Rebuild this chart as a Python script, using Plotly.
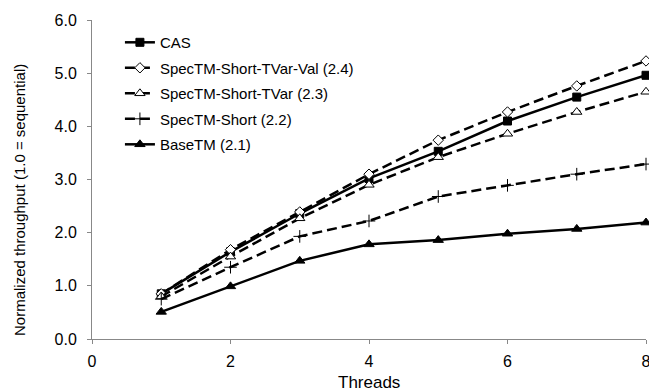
import plotly.graph_objects as go

threads = [1, 2, 3, 4, 5, 6, 7, 8]
cas = [0.85, 1.64, 2.36, 3.02, 3.53, 4.10, 4.55, 4.96]
tvar_val = [0.85, 1.68, 2.39, 3.10, 3.74, 4.27, 4.76, 5.23]
tvar = [0.80, 1.55, 2.27, 2.90, 3.42, 3.86, 4.27, 4.65]
short = [0.75, 1.35, 1.93, 2.22, 2.68, 2.89, 3.10, 3.29]
basetm = [0.51, 0.99, 1.47, 1.78, 1.86, 1.98, 2.07, 2.19]

names = ["CAS", "SpecTM-Short-TVar-Val (2.4)", "SpecTM-Short-TVar (2.3)",
         "SpecTM-Short (2.2)", "BaseTM (2.1)"]
x_ticks = [0, 2, 4, 6, 8]
y_ticks = [0, 1, 2, 3, 4, 5, 6]

FONT = "Arial, Liberation Sans, sans-serif"
DASH = "10px,5px"

styles = [
    dict(y=cas, dash="solid", marker=dict(symbol="square", size=8, color="black",
                                          line=dict(color="black", width=1))),
    dict(y=tvar_val, dash=DASH, marker=dict(symbol="diamond", size=8, color="white",
                                            line=dict(color="black", width=1))),
    dict(y=tvar, dash=DASH, marker=dict(symbol="triangle-up", size=9, color="white",
                                        line=dict(color="black", width=1))),
    dict(y=short, dash=DASH, marker=dict(symbol="cross-thin", size=9, color="black",
                                         line=dict(color="black", width=1))),
    dict(y=basetm, dash="solid", marker=dict(symbol="triangle-up", size=9, color="black",
                                             line=dict(color="black", width=1))),
]

fig = go.Figure()
for i, (name, st) in enumerate(zip(names, styles)):
    fig.add_trace(go.Scatter(
        x=threads, y=st["y"], name=name, mode="lines+markers",
        line=dict(color="black", width=2.5, dash=st["dash"]),
        marker=st["marker"], cliponaxis=False, legendgroup=f"g{i}",
    ))

fig.add_annotation(
    text="Normalized throughput (1.0 = sequential)", textangle=-90,
    xref="paper", yref="paper", x=-0.1318, y=0.4356,
    xanchor="center", yanchor="middle", showarrow=False,
    font=dict(size=15, family=FONT, color="black"),
)
fig.add_annotation(
    text="Threads",
    xref="paper", yref="paper", x=0.5, y=-0.137,
    xanchor="center", yanchor="middle", showarrow=False,
    font=dict(size=17, family=FONT, color="black"),
)

fig.update_layout(
    width=649, height=392,
    margin=dict(l=92, r=3, t=20, b=52.7),
    paper_bgcolor="white", plot_bgcolor="white",
    font=dict(family=FONT, size=15, color="black"),
    showlegend=True,
    legend=dict(x=0.0504, y=0.981, xanchor="left", yanchor="top",
                bgcolor="rgba(0,0,0,0)", font=dict(size=15),
                tracegroupgap=3, traceorder="grouped"),
    xaxis=dict(range=[0, 8], tickvals=x_ticks, showgrid=False, zeroline=False,
               showline=True, linecolor="#888888", linewidth=1,
               ticks="outside", ticklen=4, tickcolor="#888888", automargin=False,
               ticklabelstandoff=4, ticklabeloverflow="allow",
               tickfont=dict(size=16)),
    yaxis=dict(range=[0, 6], tickvals=y_ticks, tickformat=".1f",
               showgrid=False, zeroline=False,
               showline=True, linecolor="#888888", linewidth=1,
               ticks="outside", ticklen=4, tickcolor="#888888", automargin=False,
               ticklabelstandoff=7,
               tickfont=dict(size=16)),
)

# remove the default page margin so the 649x392 figure fills the window exactly
fig.write_html(
    "out.html",
    config={"displayModeBar": False},
    post_script="document.body.style.margin='0';document.body.style.overflow='hidden';",
)
